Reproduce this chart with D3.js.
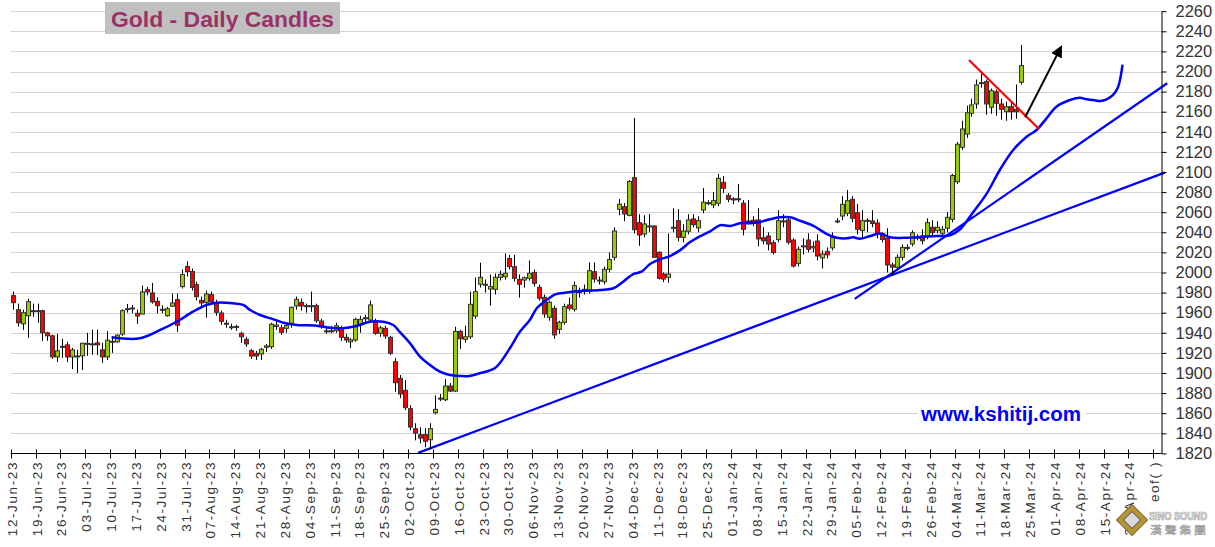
<!DOCTYPE html>
<html><head><meta charset="utf-8">
<script src="https://cdn.jsdelivr.net/npm/d3@7"></script>
<style>body{margin:0;background:#fff;overflow:hidden} svg{display:block}</style>
</head><body><svg id="c" width="1215" height="547"></svg>
<script>
// ---------- DATA ----------
const opens = [1977,1963,1949,1957,1962,1962,1962,1940,1937,1916,1926,1928,1916,1916,1917,1929,1929,1930,1923,1916,
1931.6,1931,1938.7,1963.5,1964.5,1959.4,1958.7,1983,1979.7,1971.3,1963.4,1957,1966.4,1973,1986,2006,2001,1988,1972.3,1970.3,
1978,1969.7,1959.7,1949.5,1946,1946,1939.5,1933.5,1922.2,1919.6,1918.9,1925.6,1926.2,1946.3,1945,1944.5,1949.5,1966.7,1970.3,1967,
1967,1967,1951.7,1942,1942,1942,1944.5,1935.5,1931,1932.8,1947.8,1955,1952.7,1951.7,1939.5,1944.5,1935.5,1911.2,1894.7,1882.8,
1864.5,1844.6,1838.6,1838.6,1833.6,1860.5,1875,1873.4,1887,1882,1941.4,1933.5,1936,1956.7,1988.3,1988.3,1983.6,1983.3,1995.2,1995.8,
2014,2005.8,1993.2,1992.5,1994.2,2000.2,1985.3,1975.3,1955.4,1964.4,1943.5,1950.4,1967.7,1963.4,1981,1983.3,1981.6,2000.8,1992.5,1990.8,
2003.2,2015.1,2062.9,2065.5,2056.8,2094.3,2049.6,2038.3,2046.3,2046.3,2020.1,1998.5,1995.2,2045,2051.6,2035,2041,2053.3,2044.4,2062.2,
2069.5,2067.2,2068.9,2089.7,2076.8,2073.4,2073.4,2068.9,2051.3,2052,2052.3,2034.6,2036.3,2029.7,2032.7,2051.3,2052.3,2032.3,2009.1,2026,
2032.3,2024.5,2031.3,2014.5,2021,2024.5,2051.3,2056.2,2058.9,2072.8,2059.5,2041.7,2052,2051.3,2049.3,2038.8,2034,2007.5,2005.2,2015.1,
2025,2028.4,2035,2036.3,2035.7,2045,2041.6,2039,2044,2052.9,2090.3,2124.6,2137.8,2158.4,2167.7,2188.9,2189.9,2164.4,2179.9,2167.7,
2160,2165,2162.4,2189.3];
const highs = [1981,1969,1963,1974,1969,1969,1963,1941,1938,1939,1934,1931,1925,1923,1930,1940,1943,1943,1930,1941.6,
1936.6,1938.4,1963.4,1968.6,1967.7,1963,1987,1985.6,1989.6,1975.3,1967.4,1965.7,1979,1979,2003,2011,2004,1991,1976,1982,
1981,1973,1962,1953,1949,1948,1941,1936,1924,1922,1925,1929,1950,1953,1948,1950,1966,1976,1974,1969,
1981,1969,1954,1946,1947,1950,1947,1939,1935,1955,1957,1958,1972,1954,1947,1947,1937,1915,1898,1893,
1868,1850,1846,1845,1850,1877.7,1879,1894,1890,1946,1943,1947,1981,1995,2009.8,1993,1998,1999,2002,2019,
2017.5,2017.5,1998,1996,2012,2003,1988,1978,1972,1967,1952,1969,1975,1991,1985,1988,2010,2010,1996,2006,
2020,2045,2073,2069,2092,2153.8,2058,2057,2058,2047,2021,2000,2038.7,2064,2063,2048,2058,2058,2056,2084,
2072,2080,2098,2096,2079,2075,2088,2072,2072,2056,2064,2045,2040,2032,2062,2058,2056,2034,2026,2034,
2039,2031,2038,2022,2025,2040,2054,2076,2082,2076,2068,2062,2054,2062,2053,2040,2044,2010,2018,2028,
2028,2042,2038,2043,2054,2052,2051,2046,2060,2098,2130,2151,2166,2173,2192,2200,2192,2183,2182,2173,
2170,2170,2187,2226.4];
const lows = [1963,1946,1943,1935,1956,1950,1932,1932,1914,1911,1915,1911,1904,1900,1903,1917,1918,1918,1910,1913,
1920,1930,1937,1960,1959.4,1949,1958,1977.3,1969,1959.4,1959.4,1956,1965.7,1941,1984,1996,1982,1972,1966,1955,
1968,1957,1948,1945,1943,1942,1930,1926,1914,1913,1913,1921,1924,1943,1938,1940,1945,1963,1962,1960,
1961,1950,1944,1939,1940,1940,1932,1930,1925,1931,1940,1950,1950,1938,1936,1934,1918,1881.4,1875,1863,
1843,1833,1830,1826,1824,1858.8,1872,1872,1881,1881,1924,1930,1934,1954,1985,1980,1967,1978,1992,1993,
2003,1991,1975,1985,1992,1986,1972,1955,1952,1934,1939,1948,1962,1961,1975,1978,1979,1990,1988,1988,
2000,2012,2057,2051,2056,2038.7,2026.5,2035,2040,2015,1993,1990.5,1990,2040,2031,2030,2038,2045,2040,2059,
2067,2064,2066,2079,2070,2068,2070,2037,2048,2046,2026,2028,2022,2018,2030,2045,2028,2005,2006,2018,
2020,2020,2012,2004,2014,2022,2049,2052,2056,2050,2038,2035,2040,2045,2034,2030,2000,1997,2002,2012,
2022,2026,2032,2028,2033,2036,2039,2036,2040,2050,2088,2122,2134,2155,2163,2184,2157,2158,2156,2152,
2151,2152,2153,2187];
const closes = [1970,1950,1960,1971,1962,1961,1940,1937,1916,1922,1926.5,1916,1923,1917,1929.6,1929.5,1929,1928,1916,1932.6,
1931.6,1937.7,1962,1964,1964.7,1956.7,1980.7,1980.7,1970.7,1967,1962.4,1964,1969.7,1947.5,1998,2001,1985,1976,1969.7,1978.6,
1971,1960.4,1951.4,1949.5,1946,1946.3,1936,1928.9,1916.9,1916.9,1923.6,1926.9,1948.5,1947.7,1940.5,1947.4,1965.4,1973.3,1966.7,1967,
1967,1952,1946.8,1942,1942,1947,1935.5,1932.8,1933,1953.4,1953.4,1955,1967.7,1939.5,1945,1936.8,1919.6,1890.3,1879.1,1865.5,
1846.2,1840.2,1835.2,1832,1844.6,1863.8,1875,1887,1882,1941.4,1934.1,1936,1968.4,1980.9,1995.2,1988.3,1986,1995.2,1998.2,1999.2,
2005.8,1994.2,1988.3,1994.8,1999.2,1989.2,1974.4,1958.7,1970.3,1937.9,1950.4,1966,1964.4,1986.9,1981,1983,2001.8,1993.5,1992.5,2003.2,
2013,2041.3,2067.9,2058.2,2090.6,2042.6,2037.3,2048.3,2046.3,2015.1,1994.2,1993.5,1998.5,2045,2035,2041.3,2052.3,2047.6,2051.6,2069.9,
2069.5,2071.5,2093.7,2083.8,2072.8,2072.2,2073.4,2043,2051.3,2049.5,2033.4,2031.6,2028.3,2019.8,2051.6,2051.3,2030.1,2006.4,2023.1,2026.5,
2023.1,2025.8,2016.4,2018.4,2017.6,2035,2051.3,2067.9,2071.5,2053.9,2043,2051.6,2052,2048.7,2038.8,2032.8,2007.5,2005.3,2015.1,2025,
2025,2039.6,2035,2031.6,2049.6,2039.6,2045,2043,2054.9,2096.6,2127.6,2142.8,2159,2166.7,2186.6,2188.9,2167.7,2180.9,2168.4,2162.4,
2165,2160,2160,2205.9];

// moving average (day index, value)
const maDay = [19.9,25.6,29.7,33,36.3,39,41.1,44.3,46.4,47.8,49.8,52.5,54.5,57.2,61.2,63.9,66.5,69.2,71.9,74.6,76.6,77.9,80,82,84,86,88,90,92,94,97.1,99.8,102.1,104.1,105.5,107.5,109.2,111.5,114.2,118.2,120.9,122.9,124.9,126.6,128.3,130.3,132.3,134.3,136.3,138.3,140.4,142.4,144.4,146.4,148.4,150.4,152.4,154.4,156.5,158.5,161.2,163.9,165.9,167.9,169.2,170.5,172.6,174.6,176.6,180,183.3,186,188.7,190.7,193.4,196.1,198.7,201.4,204.1,206.1,208.1,210.1,212.8,214.8,216.2,217.5,218.9,220.2,221.5,222.5,223.4];
const maVal = [1935.5,1934.5,1942.8,1951,1961,1967.7,1970,1969.4,1967.7,1962.7,1957.7,1953.4,1950,1947.8,1947.1,1945,1944.5,1946.8,1951,1951,1947.8,1941,1929.5,1916.2,1907.9,1901.3,1898,1897,1897,1899.7,1905,1922.5,1941,1952.7,1964.4,1972.6,1978.3,1980,1981.5,1982.6,1984.3,1990.9,1998.5,2000.8,2008.4,2013.1,2016.4,2022,2030,2036,2041,2047,2046.3,2049,2049,2050.2,2052.9,2054.9,2054.9,2051.5,2046.3,2038.3,2034.6,2034,2035,2033.6,2036.3,2038.8,2035,2034.6,2035.6,2036.3,2037,2043,2060.5,2078.8,2102,2121.9,2135.1,2141.8,2153.4,2165,2171.6,2174,2172.3,2171.6,2170.6,2172.3,2176.8,2184.4,2206.9];

// trend lines (day index, price)
const trendADays = [81.6, 231.9], trendAPrices = [1820.5, 2099.4];
const trendBDays = [169.5, 232.4], trendBPrices = [1973.7, 2188.3];
const redLineDays = [192.5, 206.6], redLinePrices = [2211.5, 2142.7];
const arrowDays = [203.8, 211], arrowPrices = [2154.4, 2224];

const weekLabels = ["12-Jun-23","19-Jun-23","26-Jun-23","03-Jul-23","10-Jul-23","17-Jul-23","24-Jul-23","31-Jul-23","07-Aug-23","14-Aug-23","21-Aug-23","28-Aug-23","04-Sep-23","11-Sep-23","18-Sep-23","25-Sep-23","02-Oct-23","09-Oct-23","16-Oct-23","23-Oct-23","30-Oct-23","06-Nov-23","13-Nov-23","20-Nov-23","27-Nov-23","04-Dec-23","11-Dec-23","18-Dec-23","25-Dec-23","01-Jan-24","08-Jan-24","15-Jan-24","22-Jan-24","29-Jan-24","05-Feb-24","12-Feb-24","19-Feb-24","26-Feb-24","04-Mar-24","11-Mar-24","18-Mar-24","25-Mar-24","01-Apr-24","08-Apr-24","15-Apr-24","22-Apr-24","eof( )"];
const yTickVals = [1820,1840,1860,1880,1900,1920,1940,1960,1980,2000,2020,2040,2060,2080,2100,2120,2140,2160,2180,2200,2220,2240,2260];

// ---------- CHART ----------
const svg = d3.select("#c");
const x = d3.scaleLinear().domain([-0.4, 229.6]).range([10.7, 1153.3]);
const y = d3.scaleLinear().domain([1820, 2260]).range([453.4, 11.2]);
const axisX = 1161;
const left = x(-0.4);
const snap = v => Math.round(v) + 0.5;

// grid
svg.append("g").selectAll("line").data(yTickVals).join("line")
  .attr("x1", left).attr("x2", axisX)
  .attr("y1", d => snap(y(d))).attr("y2", d => snap(y(d)))
  .attr("stroke", "#d2d2d2").attr("stroke-width", 1);

// title
const tg = svg.append("g");
tg.append("rect").attr("x", 105).attr("y", 2).attr("width", 235).attr("height", 32).attr("fill", "#c0c0c0");
tg.append("text").attr("x", 111).attr("y", 27).text("Gold - Daily Candles")
  .attr("font-family", "Arial, 'Liberation Sans', sans-serif").attr("font-weight", "bold")
  .attr("font-size", 22).attr("fill", "#993366")
  .attr("textLength", 223).attr("lengthAdjust", "spacingAndGlyphs");

// watermark
svg.append("rect").attr("x", 918).attr("y", 404).attr("width", 168).attr("height", 20).attr("fill", "#fff");
svg.append("text").attr("x", 921).attr("y", 421).text("www.kshitij.com")
  .attr("font-family", "Arial, 'Liberation Sans', sans-serif").attr("font-weight", "bold")
  .attr("font-size", 20).attr("fill", "#0000ff")
  .attr("textLength", 160).attr("lengthAdjust", "spacingAndGlyphs");

// trend lines
const pline = (days, prices) => d3.line()(days.map((d, i) => [x(d), y(prices[i])]));
svg.append("path").attr("d", pline(trendADays, trendAPrices)).attr("stroke", "#0000ff").attr("stroke-width", 2.2).attr("fill", "none");
svg.append("path").attr("d", pline(trendBDays, trendBPrices)).attr("stroke", "#0000ff").attr("stroke-width", 2.2).attr("fill", "none");

// candles
const idx = d3.range(opens.length);
const cg = svg.append("g").selectAll("g").data(idx).join("g");
cg.append("line")
  .attr("x1", i => snap(x(i))).attr("x2", i => snap(x(i)))
  .attr("y1", i => y(highs[i])).attr("y2", i => y(lows[i]))
  .attr("stroke", "#000").attr("stroke-width", 1);
cg.append("rect")
  .attr("x", i => Math.round(x(i)) - 1.5)
  .attr("width", 4)
  .attr("y", i => Math.min(y(opens[i]), y(closes[i])))
  .attr("height", i => Math.max(1, Math.abs(y(opens[i]) - y(closes[i]))))
  .attr("fill", i => Math.abs(opens[i] - closes[i]) < 0.6 ? "#333" : (closes[i] > opens[i] ? "#99cc00" : "#ff0000"))
  .attr("stroke", "#333").attr("stroke-width", 1);

// moving average
svg.append("path")
  .attr("d", d3.line().x((d, i) => x(maDay[i])).y(d => y(d)).curve(d3.curveCatmullRom.alpha(0.5))(maVal))
  .attr("stroke", "#0000ff").attr("stroke-width", 2.5).attr("fill", "none");

// red line
svg.append("path").attr("d", pline(redLineDays, redLinePrices)).attr("stroke", "#ff0000").attr("stroke-width", 2.2).attr("fill", "none");

// arrow
const defs = svg.append("defs");
defs.append("marker").attr("id", "ah").attr("viewBox", "0 0 10 10").attr("refX", 8).attr("refY", 5)
  .attr("markerWidth", 6).attr("markerHeight", 6).attr("orient", "auto").attr("markerUnits", "strokeWidth")
  .append("path").attr("d", "M0,0 L10,5 L0,10 z").attr("fill", "#000");
svg.append("path").attr("d", pline(arrowDays, arrowPrices)).attr("stroke", "#000").attr("stroke-width", 2)
  .attr("fill", "none").attr("marker-end", "url(#ah)");

// x axis
const xg = svg.append("g");
xg.append("line").attr("x1", left).attr("x2", axisX).attr("y1", snap(y(1820))).attr("y2", snap(y(1820))).attr("stroke", "#000");
const wIdx = weekLabels.map((d, i) => i * 5 - 0.4);
xg.selectAll("line.t").data(wIdx).join("line").attr("class", "t")
  .attr("x1", d => snap(x(d))).attr("x2", d => snap(x(d)))
  .attr("y1", snap(y(1820)) - 4).attr("y2", snap(y(1820)) + 5).attr("stroke", "#000");
xg.selectAll("text").data(wIdx).join("text")
  .attr("transform", d => `translate(${snap(x(d)) + 1},461) rotate(-90)`)
  .attr("text-anchor", "end").attr("dy", "0.36em")
  .attr("font-family", "Arial, 'Liberation Sans', sans-serif").attr("font-size", 13.5)
  .attr("letter-spacing", 1.6).attr("fill", "#333")
  .text((d, i) => weekLabels[i]);

// y axis
const ya = d3.axisRight(y).tickValues(yTickVals).tickSize(5).tickSizeOuter(0).tickPadding(9).tickFormat(d3.format("d"));
const yg = svg.append("g").attr("transform", `translate(${axisX + 0.5},0)`).call(ya);
yg.select(".domain").attr("stroke", "#000");
yg.selectAll(".tick line").attr("stroke", "#000");
yg.selectAll("text").attr("font-family", "Arial, 'Liberation Sans', sans-serif").attr("font-size", 16.5).attr("fill", "#333");

// logo
const lg = svg.append("g");
lg.append("rect").attr("x", -11).attr("y", -11).attr("width", 22).attr("height", 22)
  .attr("transform", "translate(1132,520) rotate(45)").attr("fill", "#b8962e").attr("stroke", "#7a6a3a");
lg.append("rect").attr("x", -6).attr("y", -6).attr("width", 12).attr("height", 12)
  .attr("transform", "translate(1132,520) rotate(45)").attr("fill", "#d9d9d9").attr("stroke", "#666");
lg.append("text").attr("x", 1149).attr("y", 520).text("SINO SOUND")
  .attr("font-family", "Arial, sans-serif").attr("font-weight", "bold").attr("font-size", 10)
  .attr("textLength", 58).attr("lengthAdjust", "spacingAndGlyphs")
  .attr("fill", "#f4f4f4").attr("stroke", "#9a9a9a").attr("stroke-width", 0.6);
lg.append("text").attr("x", 1150).attr("y", 534).text("漢 聲 集 團")
  .attr("font-family", "'Noto Sans CJK TC', sans-serif").attr("font-size", 10)
  .attr("textLength", 56).attr("lengthAdjust", "spacingAndGlyphs")
  .attr("fill", "#f4f4f4").attr("stroke", "#9a9a9a").attr("stroke-width", 0.5);
</script></body></html>
